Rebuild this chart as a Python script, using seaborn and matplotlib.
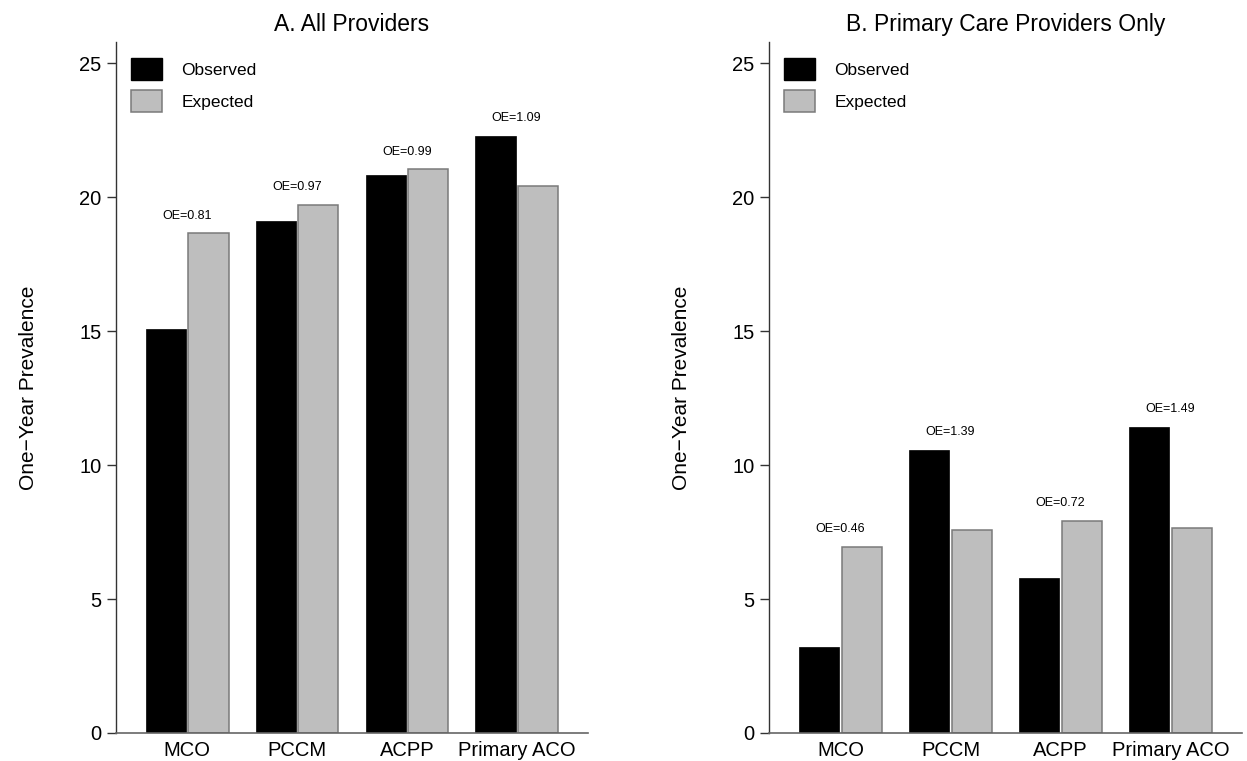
import numpy as np
import pandas as pd
import seaborn as sns
import matplotlib.pyplot as plt
import matplotlib.patches as mpatches

sns.set_style("ticks")
plt.rcParams['font.family'] = ['Liberation Sans', 'DejaVu Sans']
plt.rcParams['axes.unicode_minus'] = True
plt.rcParams['text.color'] = 'black'
plt.rcParams['axes.labelcolor'] = 'black'
plt.rcParams['xtick.labelcolor'] = 'black'
plt.rcParams['ytick.labelcolor'] = 'black'

# data
programs = ['MCO', 'PCCM', 'ACPP', 'Primary ACO']
all_observed = [15.1, 19.1, 20.83, 22.3]
all_expected = [18.66, 19.72, 21.05, 20.42]
all_oe = ['0.81', '0.97', '0.99', '1.09']
pcp_observed = [3.22, 10.58, 5.77, 11.43]
pcp_expected = [6.95, 7.57, 7.92, 7.66]
pcp_oe = ['0.46', '1.39', '0.72', '1.49']

panels = [
    ('A. All Providers', all_observed, all_expected, all_oe),
    ('B. Primary Care Providers Only', pcp_observed, pcp_expected, pcp_oe),
]

palette = {'Observed': 'black', 'Expected': '#bebebe'}

fig = plt.figure(figsize=(12.47, 7.61), dpi=100)
ax_a = fig.add_axes([0.093, 0.0368, 0.3785, 0.908])
ax_b = fig.add_axes([0.6167, 0.0368, 0.3793, 0.908])

for ax, (title, obs, exp, oe) in zip([ax_a, ax_b], panels):
    df = pd.DataFrame({
        'Program': programs * 2,
        'Type': ['Observed'] * 4 + ['Expected'] * 4,
        'Value': obs + exp,
    })
    sns.barplot(data=df, x='Program', y='Value', hue='Type', order=programs,
                hue_order=['Observed', 'Expected'], palette=palette,
                width=0.77, gap=0.05, saturation=1, legend=False, ax=ax)
    for p in ax.containers[0]:
        p.set_edgecolor('black')
        p.set_linewidth(0.5)
    for p in ax.containers[1]:
        p.set_edgecolor('#7a7a7a')
        p.set_linewidth(1.1)

    # OE labels over each group
    for i, lab in enumerate(oe):
        top = max(obs[i], exp[i])
        ax.text(i, top + 0.65, f'OE={lab}', ha='center', va='center', fontsize=9)

    ax.set_xlim(-0.65, 3.65)
    ax.set_ylim(0, 25.8)
    ax.set_yticks([0, 5, 10, 15, 20, 25])
    ax.set_title(title, fontsize=16.5, pad=8)
    ax.set_xlabel('')
    ax.set_ylabel('One\u2212Year Prevalence', fontsize=15)
    ax.yaxis.set_label_coords(-0.165, 0.5)
    ax.tick_params(axis='y', length=6.5, width=1, pad=4, labelsize=14.5, color='#333333')
    ax.tick_params(axis='x', length=0, pad=6, labelsize=14.5)
    sns.despine(ax=ax)
    ax.spines['left'].set_color('#333333')
    ax.spines['left'].set_linewidth(1)
    ax.spines['bottom'].set_color('#666666')
    ax.spines['bottom'].set_linewidth(1.2)

    handles = [mpatches.Patch(facecolor='black', edgecolor='black', label='Observed'),
               mpatches.Patch(facecolor='#bebebe', edgecolor='#7a7a7a', linewidth=1.1, label='Expected')]
    ax.legend(handles=handles, loc='upper left', bbox_to_anchor=(0.032, 0.977),
              frameon=False, fontsize=12.5, handlelength=1.8, handleheight=1.6,
              handletextpad=1.1, labelspacing=0.55, borderpad=0, borderaxespad=0)

fig.savefig('out.png', dpi=100)
